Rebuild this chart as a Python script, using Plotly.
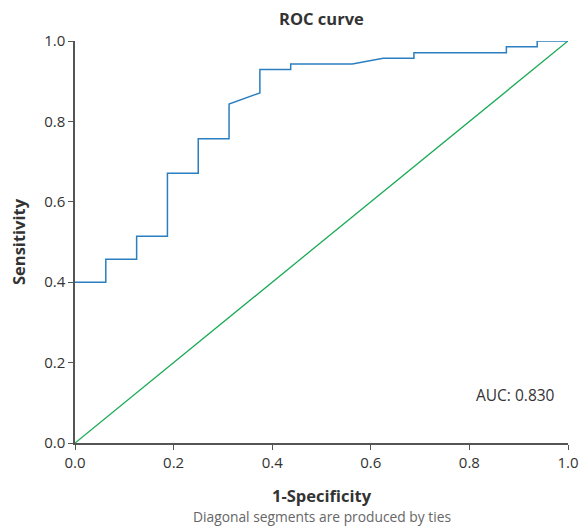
import plotly.graph_objects as go

# ROC curve points (16 negatives, steps of 1/16 on x)
fpr = [0.0, 0.0625, 0.0625, 0.125, 0.125, 0.1875, 0.1875, 0.25, 0.25,
       0.3125, 0.3125, 0.375, 0.375, 0.4375, 0.4375, 0.5625, 0.625, 0.6875,
       0.6875, 0.875, 0.875, 0.9375, 0.9375, 1.0]
tpr = [0.4, 0.4, 0.457, 0.457, 0.514, 0.514, 0.671, 0.671, 0.757,
       0.757, 0.843, 0.871, 0.929, 0.929, 0.943, 0.943, 0.957, 0.957,
       0.971, 0.971, 0.986, 0.986, 1.0, 1.0]

ref_x = [0.0, 1.0]
ref_y = [0.0, 1.0]

auc_text = "AUC: 0.830"
tick_vals = [0.0, 0.2, 0.4, 0.6, 0.8, 1.0]
tick_text = ["0.0", "0.2", "0.4", "0.6", "0.8", "1.0"]

font_family = "Open Sans, Noto Sans, sans-serif"
text_color = "#333333"

fig = go.Figure()
fig.add_trace(go.Scatter(x=ref_x, y=ref_y, mode="lines",
                         line=dict(color="#1aaa55", width=1.3),
                         showlegend=False, hoverinfo="skip"))
fig.add_trace(go.Scatter(x=fpr, y=tpr, mode="lines",
                         line=dict(color="#2b7fc0", width=1.5),
                         showlegend=False))

axis_common = dict(
    range=[0, 1], tickvals=tick_vals, ticktext=tick_text,
    showgrid=False, zeroline=False, showline=True, automargin=False,
    layer="above traces",
    linecolor="#555555", linewidth=1.5,
    ticks="outside", ticklen=5, tickcolor="#555555", tickwidth=1.2,
    tickfont=dict(size=15, color=text_color, family=font_family),
)

fig.update_layout(
    width=580, height=526,
    margin=dict(l=75, r=12, t=41, b=83),
    plot_bgcolor="white", paper_bgcolor="white",
    font=dict(family=font_family, color=text_color),
    xaxis=axis_common,
    yaxis=axis_common,
)

# titles placed as annotations relative to the plot area
fig.add_annotation(x=0.5, y=1.056, xref="x domain", yref="y domain",
                   xanchor="center", yanchor="middle",
                   text="<b>ROC curve</b>", showarrow=False,
                   font=dict(size=16.5, color=text_color))
fig.add_annotation(x=0.5, y=-0.13, xref="x domain", yref="y domain",
                   xanchor="center", yanchor="middle",
                   text="<b>1-Specificity</b>", showarrow=False,
                   font=dict(size=16.5, color=text_color))
fig.add_annotation(x=-0.1156, y=0.5, xref="x domain", yref="y domain",
                   xanchor="center", yanchor="middle",
                   text="<b>Sensitivity</b>", showarrow=False, textangle=-90,
                   font=dict(size=16.5, color=text_color))
fig.add_annotation(x=0.5, y=-0.1825, xref="x domain", yref="y domain",
                   xanchor="center", yanchor="middle",
                   text="Diagonal segments are produced by ties",
                   showarrow=False, font=dict(size=13.8, color="#666666"))
fig.add_annotation(x=0.893, y=0.12, xref="x", yref="y", text=auc_text,
                   showarrow=False, font=dict(size=15.5, color=text_color))

# drop the default page margin so the figure fills the window exactly
fig.write_html("out.html", config={"displayModeBar": False},
               post_script="document.body.style.margin='0';")
